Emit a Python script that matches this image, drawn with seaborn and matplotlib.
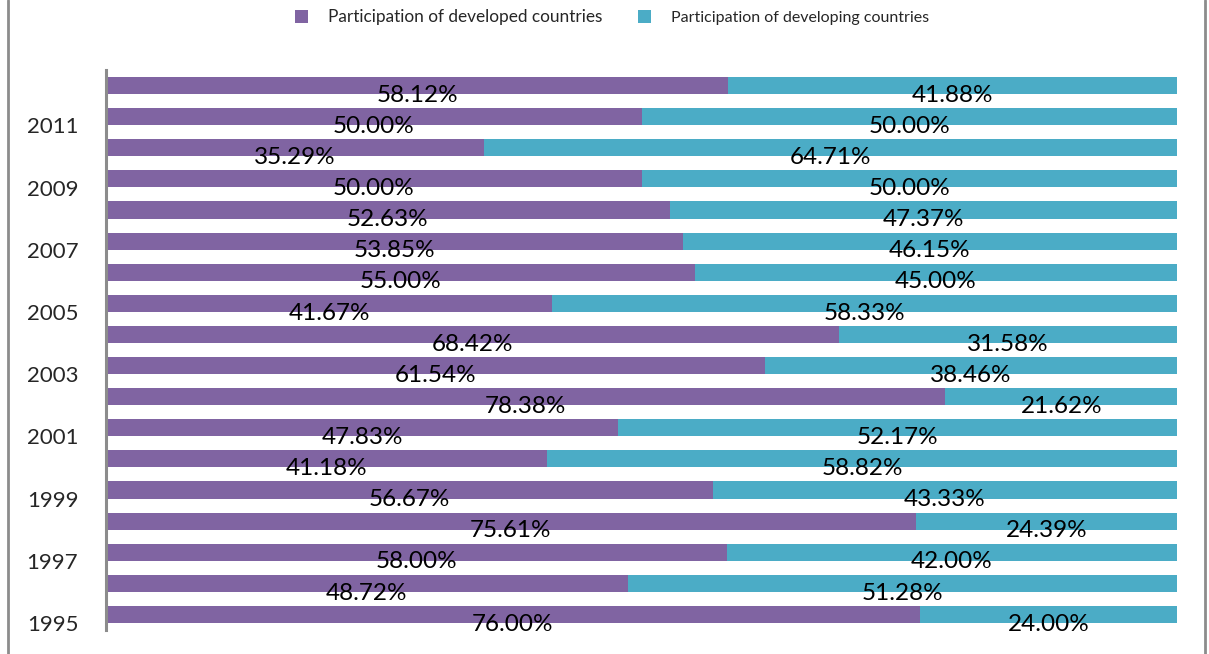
import matplotlib
matplotlib.use("Agg")
import matplotlib.pyplot as plt
from matplotlib.lines import Line2D
from matplotlib.patches import Patch
import seaborn as sns
import pandas as pd

# Share of participation per year (percent)
years = [2012, 2011, 2010, 2009, 2008, 2007, 2006, 2005, 2004, 2003,
         2002, 2001, 2000, 1999, 1998, 1997, 1996, 1995]
developed = [58.12, 50.00, 35.29, 50.00, 52.63, 53.85, 55.00, 41.67, 68.42,
             61.54, 78.38, 47.83, 41.18, 56.67, 75.61, 58.00, 48.72, 76.00]
developing = [41.88, 50.00, 64.71, 50.00, 47.37, 46.15, 45.00, 58.33, 31.58,
              38.46, 21.62, 52.17, 58.82, 43.33, 24.39, 42.00, 51.28, 24.00]
series_names = ["Participation of developed countries",
                "Participation of developing countries"]

PURPLE = "#8064A2"
TEAL = "#4BACC6"

sns.set_style("white")
plt.rcParams["font.family"] = ["Lato", "DejaVu Sans"]

df = pd.DataFrame({
    "year": [str(y) for y in years],
    "developed": developed,
    "developing": developing,
})
df["total"] = df["developed"] + df["developing"]
order = df["year"].tolist()

fig = plt.figure(figsize=(12.09, 6.54), dpi=100)
W, H = 1209, 654
ax = fig.add_axes([106 / W, 1 - 630 / H, (1177 - 106) / W, 560 / H])

# stacked 100% bars: full bar in teal, developed share drawn over it
sns.barplot(data=df, y="year", x="total", order=order, orient="h",
            color=TEAL, width=0.55, saturation=1, ax=ax, edgecolor="none")
sns.barplot(data=df, y="year", x="developed", order=order, orient="h",
            color=PURPLE, width=0.55, saturation=1, ax=ax, edgecolor="none")

ax.set_xlim(0, 100)
ax.set_ylim(len(years) - 0.5, -0.5)
ax.set_xlabel("")
ax.set_ylabel("")
ax.set_xticks([])

# value labels, centred on each segment and sitting just below the bar centre
for i, (d, v) in enumerate(zip(developed, developing)):
    ax.annotate(f"{d:.2f}%", (d / 2, i), xytext=(0, -7),
                textcoords="offset points", ha="center", va="center",
                fontsize=17.5, color="black")
    ax.annotate(f"{v:.2f}%", (d + v / 2, i), xytext=(0, -7),
                textcoords="offset points", ha="center", va="center",
                fontsize=17.5, color="black")

# every other year labelled on the category axis
tick_pos = [i + 0.28 for i, y in enumerate(years) if y % 2 == 1]
tick_lab = [str(y) for y in years if y % 2 == 1]
ax.set_yticks(tick_pos)
ax.set_yticklabels(tick_lab, fontsize=16)
ax.tick_params(axis="y", length=0, pad=20)

for side in ("top", "right", "bottom"):
    ax.spines[side].set_visible(False)
ax.spines["left"].set_color("#8c8c8c")
ax.spines["left"].set_linewidth(2.2)

handles = [Patch(facecolor=PURPLE, edgecolor="none"),
           Patch(facecolor=TEAL, edgecolor="none")]
leg = fig.legend(handles, series_names, loc="center", ncol=2,
                 bbox_to_anchor=(612 / W, 1 - 17 / H), frameon=False,
                 fontsize=11.5, handlelength=0.8, handleheight=0.8,
                 handletextpad=1.25, columnspacing=2.25)
leg.get_texts()[0].set_fontsize(12.4)

# chart frame sides
for xpx in (8, 1205):
    fig.add_artist(Line2D([xpx / W, xpx / W], [0, 1], color="#8c8c8c",
                          linewidth=2, transform=fig.transFigure))

fig.savefig("out.png", dpi=100)
